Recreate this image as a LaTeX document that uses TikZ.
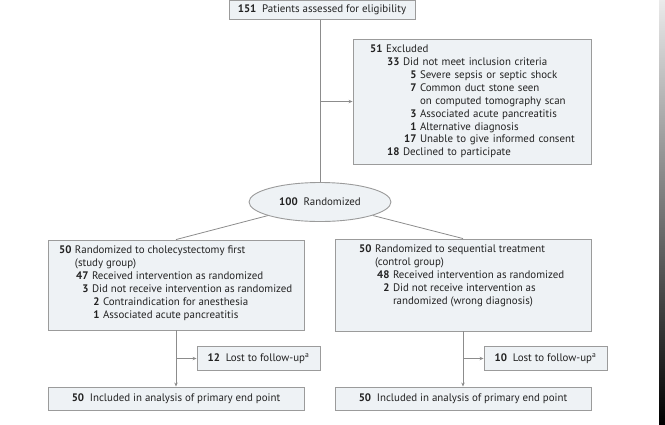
\documentclass[tikz,border=0pt]{standalone}
\usepackage{fontspec}
\setmainfont{PT Sans}
\usepackage{tikz}
\usetikzlibrary{shapes.geometric,positioning,arrows.meta,calc}

\definecolor{boxfill}{HTML}{EEF2F5}
\definecolor{boxline}{HTML}{9B9B9B}
\definecolor{flowline}{HTML}{8C8C8C}
\definecolor{txt}{HTML}{222222}

% number right-aligned, text starting at #1 from the box edge
\newcommand{\cnt}[2]{\makebox[#1][r]{\textbf{#2}\hspace{3.5pt}}}
\newcommand{\skp}[1]{\hspace*{#1}}

\tikzset{
  box/.style={draw=boxline, fill=boxfill, line width=0.9pt, inner sep=0pt,
    text=txt, font=\fontsize{10.9}{12.9}\selectfont},
  lnk/.style={draw=flowline, line width=0.8pt},
  arr/.style={lnk, -{Stealth[length=4pt,width=3.4pt]}},
}

\begin{document}
\begin{tikzpicture}[x=1pt,y=-1pt]
\useasboundingbox (0,0) rectangle (665,424);

\node[box, minimum width=186, minimum height=19, align=center] (elig) at (322,10)
  {\textbf{151}\ \ Patients assessed for eligibility};

\node[box, minimum width=238, minimum height=125, text width=238, align=left] (excl) at (472,101.5)
  {\cnt{33pt}{51}Excluded\\
   \cnt{50pt}{33}Did not meet inclusion criteria\\
   \cnt{67pt}{5}Severe sepsis or septic shock\\
   \cnt{67pt}{7}Common duct stone seen\\
   \skp{67pt}on computed tomography scan\\
   \cnt{67pt}{3}Associated acute pancreatitis\\
   \cnt{67pt}{1}Alternative diagnosis\\
   \cnt{67pt}{17}Unable to give informed consent\\
   \cnt{50pt}{18}Declined to participate};

\node[box, ellipse, minimum width=142, minimum height=39] (rand) at (320,202)
  {\textbf{100}\ \ Randomized};

\node[box, minimum width=256, minimum height=90] (lbox) at (176,285)
  {\parbox[c][78pt][t]{256pt}{%
   \cnt{27pt}{50}Randomized to cholecystectomy first\\
   \skp{27pt}(study group)\\
   \cnt{44pt}{47}Received intervention as randomized\\
   \cnt{44pt}{3}Did not receive intervention as randomized\\
   \cnt{55pt}{2}Contraindication for anesthesia\\
   \cnt{55pt}{1}Associated acute pancreatitis}};

\node[box, minimum width=256, minimum height=92] (rbox) at (463,285)
  {\parbox[c][80pt][t]{256pt}{%
   \cnt{40pt}{50}Randomized to sequential treatment\\
   \skp{40pt}(control group)\\
   \cnt{58pt}{48}Received intervention as randomized\\
   \cnt{58pt}{2}Did not receive intervention as\\
   \skp{58pt}randomized (wrong diagnosis)}};

\node[box, minimum width=123, minimum height=24] (lost1) at (258.5,358.5)
  {\textbf{12}\ \ Lost to follow-up\textsuperscript{a}};
\node[box, minimum width=123, minimum height=24] (lost2) at (545.5,358.5)
  {\textbf{10}\ \ Lost to follow-up\textsuperscript{a}};

\node[box, minimum width=256, minimum height=23] (lend) at (176,398.5)
  {\textbf{50}\ \ Included in analysis of primary end point};
\node[box, minimum width=256, minimum height=23] (rend) at (463,398.5)
  {\textbf{50}\ \ Included in analysis of primary end point};

\draw[lnk] (elig.south -| rand.north) -- (rand.north);
\draw[arr] (rand.north |- excl.west) -- (excl.west);
\draw[lnk] (rand) -- (lbox.north);
\draw[lnk] (rand) -- (rbox.north);
\draw[arr] (lbox.south) -- (lend.north);
\draw[arr] (rbox.south) -- (rend.north);
\draw[arr] (lbox.south |- lost1.west) -- (lost1.west);
\draw[arr] (rbox.south |- lost2.west) -- (lost2.west);

\shade[top color=black!8, bottom color=black] (659,0) rectangle (665,424);
\end{tikzpicture}
\end{document}
